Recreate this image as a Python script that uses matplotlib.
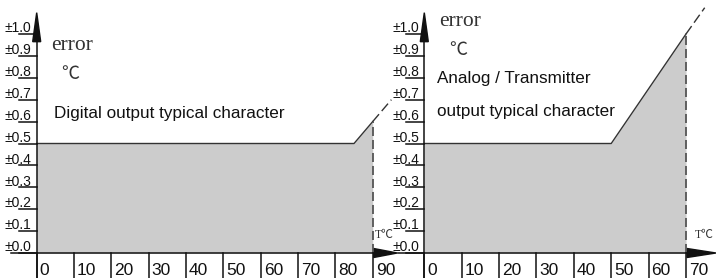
import matplotlib
matplotlib.use('Agg')
import matplotlib.pyplot as plt
from matplotlib.patches import Polygon

# ---------------- data ----------------
y_ticks = [0.0, 0.1, 0.2, 0.3, 0.4, 0.5, 0.6, 0.7, 0.8, 0.9, 1.0]
y_labels = ['±0.0', '±0.1', '±0.2', '±0.3', '±0.4', '±0.5',
            '±0.6', '±0.7', '±0.8', '±0.9', '±1.0']

digital_temp = [0, 85, 90]
digital_err = [0.5, 0.5, 0.6]
digital_ext_temp = [90, 95]
digital_ext_err = [0.6, 0.7]
digital_xticks = [0, 10, 20, 30, 40, 50, 60, 70, 80, 90]

analog_temp = [0, 50, 70]
analog_err = [0.5, 0.5, 1.0]
analog_ext_temp = [70, 75]
analog_ext_err = [1.0, 1.12]
analog_xticks = [0, 10, 20, 30, 40, 50, 60, 70]

W, H = 716, 278
SANS = ['Liberation Sans', 'DejaVu Sans']
SERIF = ['Liberation Serif', 'Noto Sans CJK SC', 'DejaVu Serif']
FILL = '#cccccc'
INK = '#111111'

fig = plt.figure(figsize=(W / 100, H / 100), dpi=100)


def fpos(x0, x1):
    # axes box from pixel positions (y: value 0 at 253px, 1.0 at 34px)
    return [x0 / W, (H - 253) / H, (x1 - x0) / W, 219 / H]


def draw_panel(ax, temp, err, ext_temp, ext_err, xticks, xmax, arrow_tip_px):
    ax.set_xlim(0, xmax)
    ax.set_ylim(0, 1.0)
    ax.set_axis_off()
    bb = ax.get_position()
    ux = xmax / (bb.width * W)      # data units per pixel, x
    uy = 1.0 / (bb.height * H)      # data units per pixel, y

    # shaded error band
    ax.fill_between(temp, 0, err, color=FILL, lw=0, clip_on=False)
    ax.plot(temp, err, color='#333333', lw=1.0, clip_on=False)
    ax.plot(ext_temp, ext_err, color='#333333', lw=1.0, dashes=(7, 3), clip_on=False)
    ax.plot([temp[-1], temp[-1]], [0, err[-1]], color='#555555', lw=1.3,
            dashes=(5, 2.2), clip_on=False)

    # y axis + arrow
    ax.plot([0, 0], [-25 * uy, 0.97], color=INK, lw=1.1, clip_on=False)
    ax.add_patch(Polygon([[-4 * ux, 0.965], [4 * ux, 0.965], [0, 0.965 + 29 * uy]],
                         closed=True, color=INK, clip_on=False))

    # y ticks: underline + label above it
    for v, lab in zip(y_ticks, y_labels):
        ax.plot([-18 * ux, 0], [v, v], color=INK, lw=1.1, clip_on=False)
        ax.text(-5 * ux, v + 1.8 * uy, lab, ha='right', va='baseline',
                fontsize=10, family=SANS, color=INK)

    # x axis + arrow
    base = xmax + 1 * ux
    ax.plot([-26 * ux, base], [0, 0], color=INK, lw=1.1, clip_on=False)
    ax.add_patch(Polygon([[base, -4.5 * uy], [base, 4.5 * uy], [arrow_tip_px * ux, 0]],
                         closed=True, color=INK, clip_on=False))

    # x ticks hanging below the axis, labels to the right of each tick
    for t in xticks:
        ax.plot([t, t], [0, -25 * uy], color=INK, lw=1.1, clip_on=False)
        ax.text(t + 3 * ux, -22 * uy, str(t), ha='left', va='baseline',
                fontsize=12.5, family=SANS, color=INK)
    return ux, uy


ax1 = fig.add_axes(fpos(36.7, 372.7))
draw_panel(ax1, digital_temp, digital_err, digital_ext_temp, digital_ext_err,
           digital_xticks, 90, 397.3 - 36.7)

ax2 = fig.add_axes(fpos(424.3, 686.0))
draw_panel(ax2, analog_temp, analog_err, analog_ext_temp, analog_ext_err,
           analog_xticks, 70, 716 - 424.3)


def ftext(x, y, s, **kw):
    fig.text(x / W, 1 - y / H, s, va='baseline', ha='left', **kw)


# left panel labels
ftext(51.5, 50, 'error', fontsize=15.5, family=SERIF, color='#333333')
ftext(61, 79, '℃', fontsize=13, family=SERIF, color='#333333')
ftext(54.3, 118.3, 'Digital output typical character', fontsize=12.3,
      family=SANS, color=INK)
ftext(375, 238.3, 'T℃', fontsize=8.5, family=SERIF, color='#333333')

# right panel labels
ftext(439.3, 26, 'error', fontsize=15.5, family=SERIF, color='#333333')
ftext(449, 55, '℃', fontsize=13, family=SERIF, color='#333333')
ftext(437.3, 83.3, 'Analog / Transmitter', fontsize=12.3,
      family=SANS, color=INK)
ftext(437.3, 116, 'output typical character', fontsize=12.3,
      family=SANS, color=INK)
ftext(695, 238.3, 'T℃', fontsize=8.5, family=SERIF, color='#333333')

fig.savefig('out.png', dpi=100)
